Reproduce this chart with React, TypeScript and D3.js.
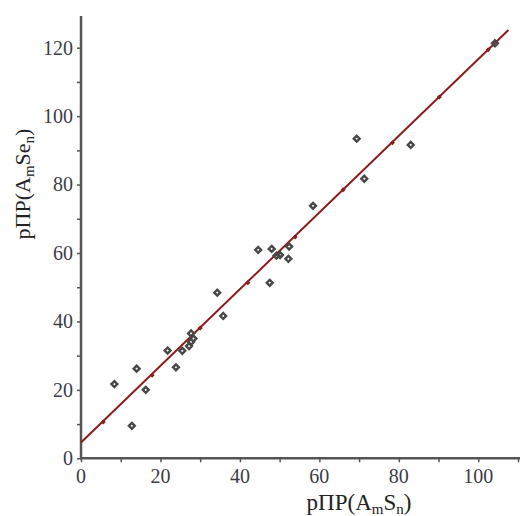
import { useEffect, useRef } from 'react';
import * as d3 from 'd3';

// experimental points (x = pΠP(AmSn), y = pΠP(AmSen))
const pointsX = [8.4, 14.0, 16.3, 12.8, 21.8, 23.9, 25.5, 27.2, 27.7, 28.3, 27.7, 34.3, 35.8,
  44.6, 48.0, 47.5, 52.4, 52.2, 49.2, 50.1, 69.4, 83.0, 71.3, 58.4, 104.2];
const pointsY = [21.7, 26.2, 20.0, 9.5, 31.5, 26.6, 31.4, 32.8, 36.5, 35.0, 34.0, 48.4, 41.6,
  60.9, 61.2, 51.3, 61.9, 58.3, 59.2, 59.4, 93.4, 91.6, 81.7, 73.8, 121.3];

// fitted line endpoints and the little markers along it
const lineX = [0, 107.6];
const lineY = [4.6, 125.2];
const lineMarkX = [5.6, 17.9, 30, 42, 53.9, 66, 78.4, 90.2, 102.5];
const lineMarkY = [10.6, 24.3, 38.1, 51.3, 64.7, 78.5, 92.2, 105.6, 119.4];

const xTicks = [0, 20, 40, 60, 80, 100];
const yTicks = [0, 20, 40, 60, 80, 100, 120];

const W = 520;
const H = 516;

const App = () => {
  const svgRef = useRef<SVGSVGElement>(null);

  useEffect(() => {
    document.body.style.margin = '0';
    const svg = d3.select(svgRef.current);
    svg.selectAll('*').remove();

    const x = d3.scaleLinear().domain([0, 110]).range([81, 518]);
    const y = d3.scaleLinear().domain([0, 120]).range([458.3, 47.7]);
    const axisColor = '#555';
    const textColor = '#3c3c48';
    const font = '"Liberation Serif", "Times New Roman", serif';

    // axes
    const gx = svg.append('g').attr('transform', `translate(0,${y(0)})`);
    gx.call(
      d3.axisBottom(x).tickValues(d3.range(0, 111, 10)).tickSize(4).tickFormat(() => '')
    );
    gx.select('.domain').remove();
    gx.selectAll('line').attr('stroke', axisColor).attr('stroke-width', 1.5);
    gx.append('line')
      .attr('x1', x(0) - 1).attr('x2', W)
      .attr('stroke', axisColor).attr('stroke-width', 2.5);
    gx.selectAll('.lbl')
      .data(xTicks)
      .join('text')
      .attr('class', 'lbl')
      .attr('x', (d) => x(d))
      .attr('y', 25)
      .attr('text-anchor', 'middle')
      .attr('fill', textColor)
      .attr('font-family', font)
      .attr('font-size', 20)
      .text((d) => d);

    const gy = svg.append('g').attr('transform', `translate(${x(0)},0)`);
    gy.call(
      d3.axisLeft(y).tickValues(d3.range(0, 121, 10)).tickSize(4).tickFormat(() => '')
    );
    gy.select('.domain').remove();
    gy.selectAll('line').attr('stroke', axisColor).attr('stroke-width', 1.5);
    gy.append('line')
      .attr('y1', 16).attr('y2', y(0) + 1)
      .attr('stroke', axisColor).attr('stroke-width', 2.5);
    gy.selectAll('.lbl')
      .data(yTicks)
      .join('text')
      .attr('class', 'lbl')
      .attr('x', -8)
      .attr('y', (d) => y(d))
      .attr('dy', '0.34em')
      .attr('text-anchor', 'end')
      .attr('fill', textColor)
      .attr('font-family', font)
      .attr('font-size', 20)
      .text((d) => d);

    // fitted line
    const lineColor = '#8b1c1c';
    svg.append('path')
      .datum(lineX.map((v, i) => [v, lineY[i]]))
      .attr('d', d3.line().x((d) => x(d[0])).y((d) => y(d[1])))
      .attr('fill', 'none')
      .attr('stroke', lineColor)
      .attr('stroke-width', 2);
    svg.selectAll('.lm')
      .data(lineMarkX.map((v, i) => [v, lineMarkY[i]]))
      .join('path')
      .attr('class', 'lm')
      .attr('transform', (d) => `translate(${x(d[0])},${y(d[1])})`)
      .attr('d', d3.symbol().type(d3.symbolDiamond2).size(16)())
      .attr('fill', lineColor);

    // data points
    svg.selectAll('.pt')
      .data(pointsX.map((v, i) => [v, pointsY[i]]))
      .join('path')
      .attr('class', 'pt')
      .attr('transform', (d) => `translate(${x(d[0])},${y(d[1])})`)
      .attr('d', d3.symbol().type(d3.symbolDiamond2).size(22)())
      .attr('fill', 'none')
      .attr('stroke', '#484848')
      .attr('stroke-width', 2.4);

    // axis titles
    const xt = svg.append('text')
      .attr('x', 359)
      .attr('y', 510)
      .attr('text-anchor', 'middle')
      .attr('fill', '#222')
      .attr('font-family', font)
      .attr('font-size', 23);
    xt.append('tspan').text('pΠP(A');
    xt.append('tspan').attr('font-size', 15).attr('dy', 4).text('m');
    xt.append('tspan').attr('dy', -4).text('S');
    xt.append('tspan').attr('font-size', 15).attr('dy', 4).text('n');
    xt.append('tspan').attr('dy', -4).text(')');

    const yt = svg.append('text')
      .attr('transform', 'translate(30,184) rotate(-90)')
      .attr('text-anchor', 'middle')
      .attr('fill', '#222')
      .attr('font-family', font)
      .attr('font-size', 22);
    yt.append('tspan').text('pΠP(A');
    yt.append('tspan').attr('font-size', 15).attr('dy', 4).text('m');
    yt.append('tspan').attr('dy', -4).text('Se');
    yt.append('tspan').attr('font-size', 15).attr('dy', 4).text('n');
    yt.append('tspan').attr('dy', -4).text(')');
  }, []);

  return <svg ref={svgRef} width={W} height={H} style={{ display: 'block', background: '#fff' }} />;
};

export default App;
